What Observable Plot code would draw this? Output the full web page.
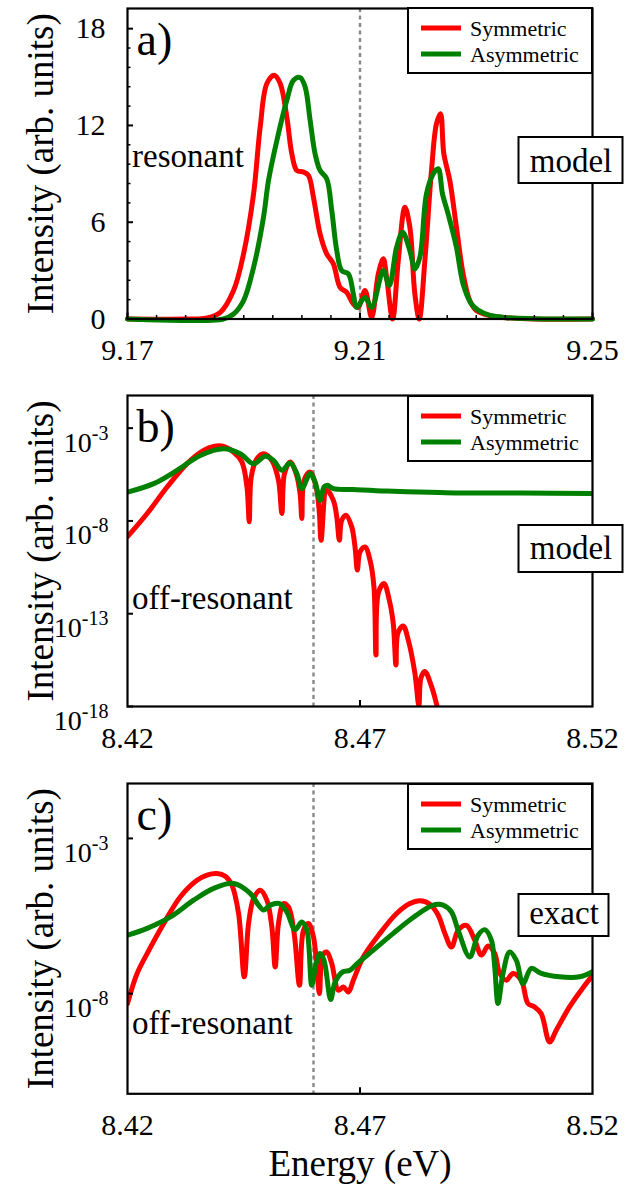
<!DOCTYPE html>
<html><head><meta charset="utf-8">
<script src="https://cdn.jsdelivr.net/npm/d3@7"></script>
<script src="https://cdn.jsdelivr.net/npm/@observablehq/plot@0.6"></script>
<style>
html,body{margin:0;padding:0;background:#fff;}
#chart{position:relative;width:635px;height:1186px;overflow:hidden;background:#fff;}
.panel{position:absolute;left:0;}
</style>
</head><body><div id="chart"></div>
<script>
// ---------- DATA ----------
const seriesNames = ["Symmetric", "Asymmetric"];
const seriesColors = ["#ff0000", "#008000"];
const yAxisLabel = "Intensity (arb. units)";
const xAxisLabel = "Energy (eV)";

// panel a (resonant, model) — linear intensity
const aEnergySym = [9.170,9.180,9.1835,9.18597,9.18825,9.18997,9.19169,9.19283,9.19398,9.19524,9.19627,9.19741,9.19827,9.19913,9.20027,9.20113,9.20199,9.20313,9.20427,9.20542,9.20657,9.20771,9.20886,9.20971,9.21086,9.212,9.21315,9.21401,9.21458,9.21561,9.21658,9.21773,9.21858,9.21944,9.22019,9.22116,9.2223,9.22316,9.22385,9.22442,9.22545,9.22659,9.22774,9.22888,9.23003,9.2324,9.2352,9.24,9.25];
const aIntSym    = [0,0,0.05,0.41,1.76,4.04,7.76,11.9,14.6,15.11,14.6,12.52,10.25,9.21,9.11,8.9,7.55,5.28,4.04,3.42,1.96,1.65,0.93,0.72,1.76,0.1,2.8,3.73,2.58,0,3.62,6.93,5.69,1.55,0,3.62,9.21,12.11,12.73,10.25,8.59,5.69,2.8,1.14,0.52,0.2,0.08,0,0];
const aEnergyAsym = [9.170,9.1865,9.18825,9.18997,9.19169,9.1934,9.19426,9.1957,9.19741,9.19856,9.1997,9.20056,9.20142,9.20227,9.20313,9.20427,9.20514,9.206,9.20685,9.208,9.20886,9.20943,9.21086,9.212,9.21401,9.21504,9.2163,9.21733,9.21858,9.21944,9.2203,9.22144,9.22259,9.22345,9.22419,9.22516,9.22659,9.22774,9.22917,9.2303,9.2324,9.2352,9.24,9.25];
const aIntAsym    = [0,0,0.31,1.14,3.2,6.31,8.59,11.07,13.56,14.8,14.97,14.39,12.32,10.25,9.21,8.7,6.73,4.24,3.0,2.8,1.55,0.72,1.34,0.72,3.0,2.07,4.45,5.38,4.24,3.1,3.83,7.76,9.0,9.32,7.76,6.52,4.45,2.17,0.93,0.55,0.22,0.08,0.02,0];

// panel b (off-resonant, model) — log10 of intensity
const bEnergySym = [8.4200,8.42423,8.42852,8.43281,8.43637,8.43852,8.44067,8.44281,8.44461,8.44569,8.44618,8.44661,8.44783,8.44925,8.45105,8.45247,8.4532,8.45376,8.45498,8.45627,8.45712,8.45749,8.45798,8.45927,8.46056,8.46127,8.46163,8.46285,8.46427,8.465,8.46556,8.46607,8.467,8.46822,8.46893,8.46943,8.47,8.47107,8.47215,8.473,8.47343,8.47393,8.47515,8.47629,8.47715,8.47773,8.47815,8.4793,8.48037,8.4818,8.48266,8.48309,8.48395,8.48538,8.48659,8.4875];
const bLogSym    = [-8.85,-7.6,-6.17,-4.91,-4.2,-3.98,-3.98,-4.29,-4.83,-6.17,-8.05,-5.63,-4.65,-4.38,-4.74,-5.81,-7.6,-5.45,-4.83,-5.45,-6.53,-7.87,-5.81,-5.37,-6.17,-7.6,-9.04,-6.35,-6.89,-7.78,-9.04,-7.96,-7.69,-8.32,-9.4,-10.65,-9.67,-9.4,-10.11,-11.55,-15.22,-11.9,-11.37,-12.26,-13.52,-15.76,-14.05,-13.66,-14.41,-16.2,-17.95,-16.47,-16.12,-16.92,-18.0,-19];
const bEnergyAsym = [8.4200,8.42564,8.43067,8.43567,8.44067,8.44425,8.4471,8.44961,8.4514,8.4532,8.45498,8.45642,8.45749,8.45927,8.46034,8.46142,8.46227,8.46299,8.46427,8.46856,8.47572,8.4850,8.49146,8.5050,8.5200];
const bLogAsym    = [-6.45,-5.99,-5.27,-4.47,-4.11,-4.38,-4.92,-4.52,-4.74,-5.27,-4.88,-5.45,-6.26,-5.45,-5.9,-6.89,-6.17,-6.08,-6.26,-6.31,-6.39,-6.45,-6.49,-6.5,-6.52];

// panel c (off-resonant, exact) — log10 of intensity
const cEnergySym = [8.4200,8.42207,8.42422,8.4278,8.43137,8.43495,8.4371,8.43924,8.44103,8.44246,8.44389,8.44511,8.44604,8.44711,8.44854,8.44997,8.45104,8.45176,8.45247,8.45355,8.45462,8.45584,8.45698,8.45784,8.45891,8.45999,8.4607,8.46127,8.46199,8.46285,8.46392,8.46535,8.46642,8.4675,8.46857,8.47071,8.47429,8.47787,8.48073,8.48288,8.48502,8.4868,8.48824,8.48967,8.4911,8.49289,8.49468,8.49611,8.49754,8.49897,8.50004,8.50147,8.5029,8.50469,8.50612,8.50755,8.50898,8.51077,8.5122,8.51506,8.51757,8.5200];
const cLogSym    = [-8.32,-7.35,-6.71,-5.74,-4.88,-4.35,-4.18,-4.13,-4.22,-4.51,-5.42,-7.46,-5.74,-4.94,-4.67,-4.99,-5.85,-7.14,-5.74,-5.1,-5.21,-6.06,-7.73,-5.96,-5.74,-6.17,-7.14,-8.0,-6.76,-6.66,-7.03,-7.89,-7.79,-7.95,-7.57,-6.82,-6.06,-5.42,-5.1,-5.01,-5.12,-5.47,-6.06,-6.5,-5.96,-5.8,-6.28,-6.76,-6.47,-6.71,-7.35,-7.57,-7.35,-7.57,-8.32,-8.43,-8.65,-9.56,-9.18,-8.43,-7.89,-7.41];
const cEnergyAsym = [8.4200,8.42422,8.42923,8.43423,8.43853,8.44282,8.4464,8.44818,8.44926,8.45069,8.45269,8.45426,8.45605,8.45748,8.45855,8.45963,8.46056,8.46142,8.46227,8.4637,8.46464,8.46628,8.46785,8.46928,8.47286,8.47715,8.48144,8.48573,8.48788,8.48967,8.4911,8.4936,8.49539,8.49682,8.49825,8.49897,8.49968,8.50075,8.50219,8.50362,8.50505,8.50684,8.50898,8.51292,8.51721,8.5200];
const cLogAsym    = [-6.12,-5.9,-5.53,-4.99,-4.61,-4.45,-4.77,-5.15,-5.31,-5.15,-5.1,-5.37,-5.94,-5.69,-5.94,-7.73,-7.03,-6.71,-6.93,-8.19,-7.63,-7.3,-7.25,-7.05,-6.6,-6.06,-5.55,-5.15,-5.15,-5.37,-5.96,-6.82,-6.12,-5.94,-6.28,-7.14,-8.32,-7.35,-6.66,-6.93,-7.68,-7.19,-7.35,-7.46,-7.46,-7.3];

// ticks
const aXTicks = [9.17, 9.21, 9.25];
const aXMinor = [9.175,9.18,9.185,9.19,9.195,9.20,9.205,9.215,9.22,9.225,9.23,9.235,9.24,9.245];
const aYTicks = [0, 6, 12, 18];
const aYMinor = [1.2,2.4,3.6,4.8,7.2,8.4,9.6,10.8,13.2,14.4,15.6,16.8];
const bcXTicks = [8.42, 8.47, 8.52];
const bYTickExp = [-3, -8, -13, -18];
const cYTickExp = [-3, -8];
const aDashed = 9.21, bcDashed = 8.46;

// ---------- DRAW ----------
const FONT = "'Liberation Serif','Times New Roman',Times,serif";
const W = 635, ML = 127, MR = 43, FW = W - ML - MR;
const zip = (xs, ys, f = v => v) => xs.map((x, i) => ({e: x, v: f(ys[i])}));
const pow10 = v => Math.pow(10, v);

function panel(cfg) {
  const fh = cfg.height - cfg.mt - cfg.mb;
  const yTicks = cfg.log ? cfg.yTickExp.map(pow10) : cfg.yTicks;
  const marks = [
    Plot.ruleX([cfg.dashed], {stroke: "#888888", strokeWidth: 2.4, strokeDasharray: "4,3.5"}),
    Plot.line(cfg.sym, {x: "e", y: "v", stroke: seriesColors[0], strokeWidth: 5, strokeLinejoin: "round", curve: "catmull-rom", clip: cfg.log}),
    Plot.line(cfg.asym, {x: "e", y: "v", stroke: seriesColors[1], strokeWidth: 5, strokeLinejoin: "round", curve: "catmull-rom", clip: cfg.log}),
    Plot.frame({stroke: "black", strokeWidth: 2.2}),
    Plot.ruleX(cfg.xMajor, {stroke: "black", strokeWidth: 2, insetTop: fh - 6}),
    Plot.ruleY(yTicks, {stroke: "black", strokeWidth: 2, insetRight: FW - 6}),
    Plot.axisX(cfg.xTicks, {tickSize: 0, tickPadding: 20, fontSize: 30, fontFamily: FONT, tickFormat: d => d.toFixed(2), label: null}),
    Plot.axisY(yTicks, {tickSize: 0, tickPadding: cfg.log ? 19 : 22, fontSize: cfg.log ? 28 : 30, fontFamily: FONT, label: null,
      tickFormat: cfg.log ? (d => "10^" + Math.round(Math.log10(d))) : (d => String(d))}),
    Plot.text([yAxisLabel], {frameAnchor: "left", dx: -75, rotate: -90, textAnchor: "middle", lineAnchor: "bottom", fontSize: 37, fontFamily: FONT}),
    Plot.text([cfg.tag], {frameAnchor: "top-left", dx: 9, dy: 46, textAnchor: "start", lineAnchor: "bottom", fontSize: 46, fontFamily: FONT}),
    Plot.text([cfg.regime], {frameAnchor: "top-left", dx: 4.5, dy: cfg.regimeDy, textAnchor: "start", lineAnchor: "bottom", fontSize: 33, fontFamily: FONT})
  ];
  if (cfg.xMinor) marks.push(Plot.ruleX(cfg.xMinor, {stroke: "black", strokeWidth: 1.5, insetTop: fh - 3.5}));
  if (cfg.yMinor) marks.push(Plot.ruleY(cfg.yMinor, {stroke: "black", strokeWidth: 1.5, insetRight: FW - 3.5}));
  if (cfg.xLabel) marks.push(Plot.text([cfg.xLabel], {frameAnchor: "bottom", dy: 81.7, textAnchor: "middle", lineAnchor: "bottom", fontSize: 37, fontFamily: FONT}));

  const svg = Plot.plot({
    width: W, height: cfg.height,
    marginTop: cfg.mt, marginBottom: cfg.mb, marginLeft: ML, marginRight: MR,
    style: `font-family: ${FONT}; background: white; color: black; overflow: visible;`,
    x: {domain: cfg.xDomain},
    y: cfg.log ? {type: "log", domain: cfg.yDomain} : {domain: cfg.yDomain},
    marks
  });

  const s = d3.select(svg);
  // superscript exponents on log tick labels
  if (cfg.log) {
    s.selectAll('g[aria-label="y-axis tick label"] text').each(function () {
      const t = d3.select(this);
      const [b, e] = t.text().split("^");
      t.text(null).attr("dy", "0.52em");
      t.append("tspan").text(b);
      t.append("tspan").attr("dy", -12).attr("font-size", 20).text(e);
    });
  }
  // legend
  const T = cfg.mt + cfg.legendOff;
  const lg = s.append("g").attr("font-family", FONT).attr("text-anchor", "start");
  lg.append("rect").attr("x", 408).attr("y", T).attr("width", 184).attr("height", 65)
    .attr("fill", "white").attr("stroke", "black").attr("stroke-width", 2);
  seriesNames.forEach((n, i) => {
    lg.append("line").attr("x1", 421).attr("x2", 461).attr("y1", T + 20 + 26 * i).attr("y2", T + 20 + 26 * i)
      .attr("stroke", seriesColors[i]).attr("stroke-width", 5);
    lg.append("text").attr("x", 470).attr("y", T + 27.5 + 26 * i).attr("font-size", 22)
      .attr("text-anchor", "start").attr("fill", "black").text(n);
  });
  // method box
  const boxW = cfg.boxW, cx = ML + cfg.methodDx;
  const bx = s.append("g").attr("font-family", FONT);
  bx.append("rect").attr("x", cx - boxW / 2 - 0.5).attr("y", cfg.mt + cfg.boxTop).attr("width", boxW).attr("height", cfg.boxH)
    .attr("fill", "white").attr("stroke", "black").attr("stroke-width", 2);
  bx.append("text").attr("x", cx).attr("y", cfg.mt + cfg.methodDy).attr("text-anchor", "middle")
    .attr("font-size", 33).attr("fill", "black").text(cfg.method);
  return svg;
}

const panels = [
  {top: 0, height: 365, mt: 8, mb: 46.5, xDomain: [9.17, 9.25], yDomain: [0, 19.25], log: false,
   sym: zip(aEnergySym, aIntSym), asym: zip(aEnergyAsym, aIntAsym), dashed: aDashed,
   xTicks: aXTicks, xMajor: aXTicks, xMinor: aXMinor, yTicks: aYTicks, yMinor: aYMinor,
   tag: "a)", regime: "resonant", regimeDy: 158, method: "model", methodDx: 444, methodDy: 164,
   boxTop: 129, boxH: 46, boxW: 104, legendOff: 0},
  {top: 365, height: 395, mt: 30, mb: 54, xDomain: [8.42, 8.52], yDomain: [1e-18, pow10(-1.24)], log: true,
   sym: zip(bEnergySym, bLogSym, pow10), asym: zip(bEnergyAsym, bLogAsym, pow10), dashed: bcDashed,
   xTicks: bcXTicks, xMajor: [8.47], yTickExp: bYTickExp,
   tag: "b)", regime: "off-resonant", regimeDy: 213.3, method: "model", methodDx: 444, methodDy: 164,
   boxTop: 130, boxH: 47, boxW: 104, legendOff: 1},
  {top: 760, height: 426, mt: 23, mb: 92.7, xDomain: [8.42, 8.52], yDomain: [pow10(-11.23), pow10(-1.23)], log: true,
   sym: zip(cEnergySym, cLogSym, pow10), asym: zip(cEnergyAsym, cLogAsym, pow10), dashed: bcDashed,
   xTicks: bcXTicks, xMajor: [8.47], yTickExp: cYTickExp, xLabel: xAxisLabel,
   tag: "c)", regime: "off-resonant", regimeDy: 250.3, method: "exact", methodDx: 437, methodDy: 141.3,
   boxTop: 111, boxH: 42, boxW: 90, legendOff: 1}
];

const chart = document.getElementById("chart");
for (const p of panels) {
  const div = document.createElement("div");
  div.className = "panel";
  div.style.top = p.top + "px";
  div.appendChild(panel(p));
  chart.appendChild(div);
}
</script>
</body></html>
